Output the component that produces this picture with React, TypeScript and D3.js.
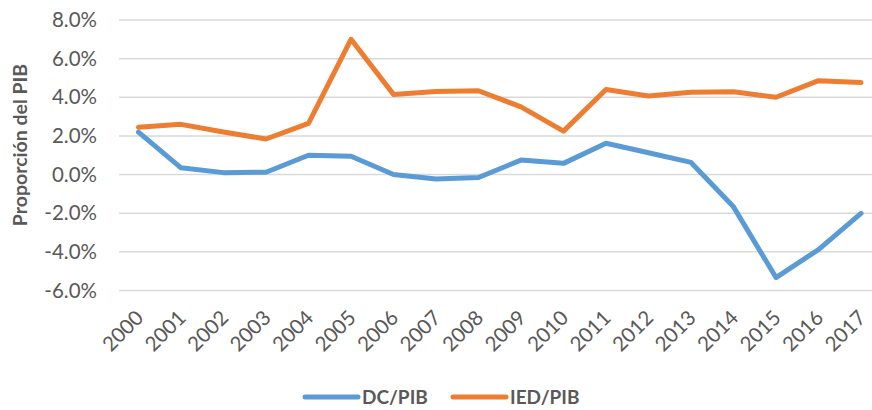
import React from "react";
import * as d3 from "d3";

const years = ["2000","2001","2002","2003","2004","2005","2006","2007","2008","2009","2010","2011","2012","2013","2014","2015","2016","2017"];
const dcPib = [2.2, 0.35, 0.1, 0.12, 1.0, 0.95, 0.0, -0.23, -0.15, 0.75, 0.58, 1.62, 1.13, 0.63, -1.67, -5.33, -3.88, -2.01];
const iedPib = [2.45, 2.6, 2.2, 1.84, 2.65, 7.0, 4.15, 4.3, 4.34, 3.5, 2.25, 4.4, 4.07, 4.26, 4.29, 4.0, 4.86, 4.76];
const yTicks = [-6, -4, -2, 0, 2, 4, 6, 8];
const seriesNames = ["DC/PIB", "IED/PIB"];
const colors = ["#5B9BD5", "#ED7D31"];

const W = 872, H = 410;
const FONT = "Lato, 'Open Sans', sans-serif";

export default function App() {
  const x = d3.scalePoint<string>().domain(years).range([138.5, 861]);
  const y = d3.scaleLinear().domain([-6, 8]).range([290.5, 20]);
  const line = d3.line<number>().x((_, i) => x(years[i])!).y(d => y(d));
  const series = [dcPib, iedPib];
  const fmt = (t: number) => (t < 0 ? "-" : "") + Math.abs(t).toFixed(1) + "%";
  return (
    <svg width={W} height={H} style={{ position: "absolute", left: 0, top: 0, background: "#fff" }}>
      {yTicks.map(t => (
        <g key={t}>
          <line x1={119} x2={872} y1={y(t)} y2={y(t)} stroke="#d9d9d9" strokeWidth={1.5} />
          <text x={97} y={y(t)} dy="0.35em" textAnchor="end" fontFamily={FONT} fontSize={20.5} fill="#595959">
            {fmt(t)}
          </text>
        </g>
      ))}
      {years.map(yr => (
        <text key={yr} transform={`translate(${x(yr)! + 1},${314}) rotate(-45)`} textAnchor="end" dy="0.35em"
          fontFamily={FONT} fontSize={20.5} fill="#595959">{yr}</text>
      ))}
      <text transform={`translate(27,145) rotate(-90)`} textAnchor="middle" fontFamily={FONT} fontSize={19.5}
        fontWeight="bold" fill="#595959">Proporción del PIB</text>
      {series.map((s, i) => (
        <path key={i} d={line(s)!} fill="none" stroke={colors[i]} strokeWidth={5} strokeLinejoin="round" strokeLinecap="round" />
      ))}
      {seriesNames.map((n, i) => {
        const lx = i === 0 ? 305 : 453;
        return (
          <g key={n}>
            <line x1={lx} x2={lx + 53} y1={397} y2={397} stroke={colors[i]} strokeWidth={5} strokeLinecap="round" />
            <text x={lx + 57} y={397} dy="0.35em" fontFamily={FONT} fontSize={19} fontWeight="bold" fill="#595959">{n}</text>
          </g>
        );
      })}
    </svg>
  );
}
